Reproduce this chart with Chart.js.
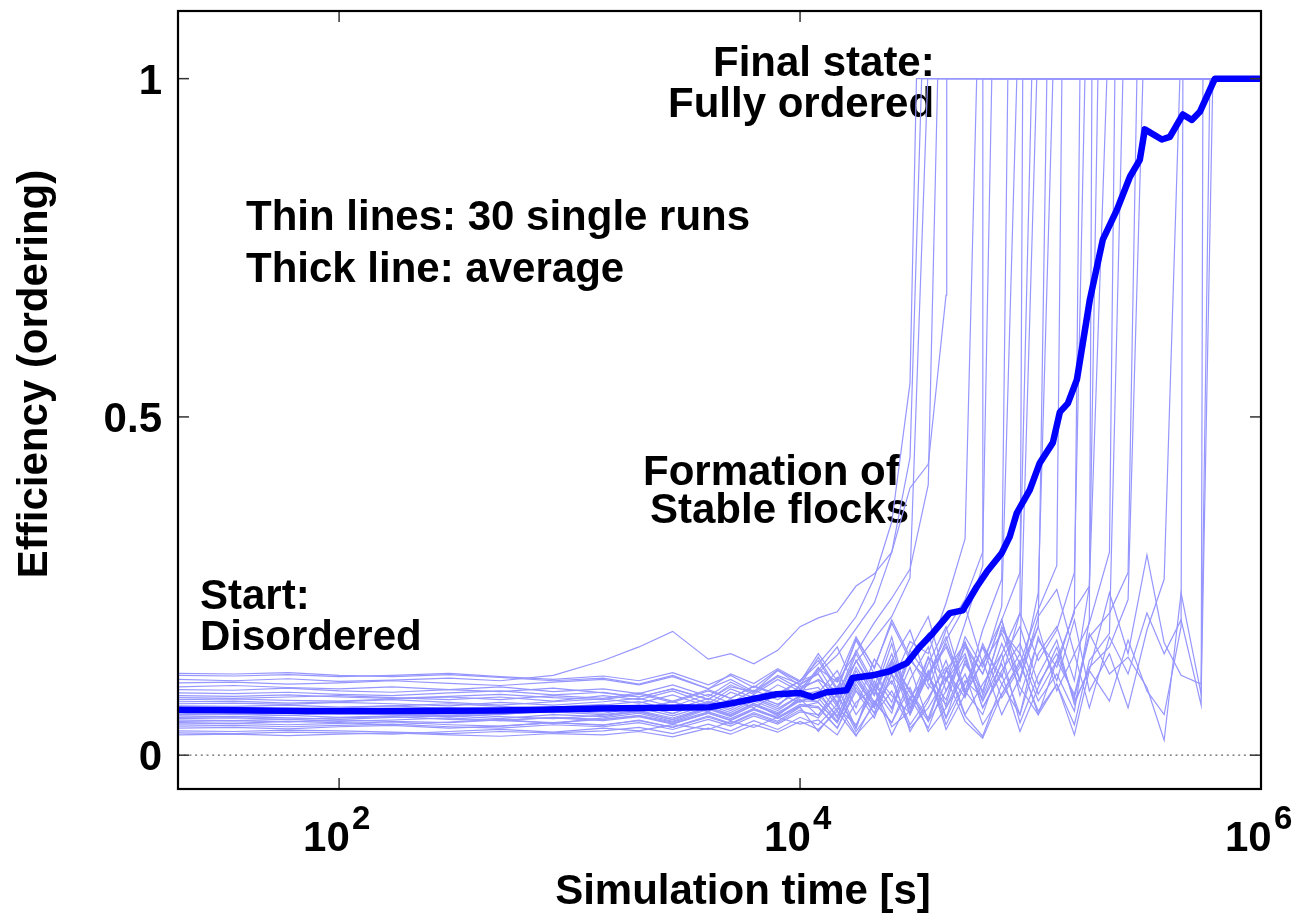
<!DOCTYPE html>
<html>
<head>
<meta charset="utf-8">
<title>Efficiency (ordering) vs simulation time</title>
<script src="https://cdn.jsdelivr.net/npm/chart.js@4.4.1/dist/chart.umd.min.js"></script>
<style>
  html, body { margin: 0; padding: 0; background: #fff; }
  #wrap { width: 1314px; height: 916px; }
</style>
</head>
<body>
<div id="wrap"><canvas id="chart" width="1314" height="916"></canvas></div>
<script>
// time grid of the single runs [s]
const times = [20, 35, 60, 100, 170, 300, 500, 850, 1400, 2000, 2800, 4000, 5000, 6300, 8000,
  10000, 12000, 14500, 17500, 21000, 25000, 30000, 36000, 43000, 52000, 62000, 75000, 90000,
  108000, 130000, 155000, 180000, 220000, 265000, 320000, 380000, 450000, 550000, 660000, 790000, 1000000];

// each single run, on the grid above, until it jumps to full order
const run01 = [0.088, 0.087, 0.089, 0.086, 0.084, 0.087, 0.090, 0.085, 0.082, 0.090, 0.078, 0.095, 0.084, 0.102, 0.091, 0.110, 0.135, 0.168, 0.205, 0.262, 0.345, 0.55];
const run02 = [0.101, 0.103, 0.100, 0.098, 0.101, 0.097, 0.094, 0.099, 0.092, 0.086, 0.098, 0.083, 0.101, 0.094, 0.118, 0.105, 0.122, 0.148, 0.187, 0.225, 0.300, 0.44];
const run03 = [0.062, 0.060, 0.063, 0.065, 0.061, 0.058, 0.064, 0.070, 0.066, 0.074, 0.061, 0.080, 0.069, 0.088, 0.075, 0.097, 0.112, 0.095, 0.138, 0.172, 0.205, 0.262];
const run04 = [0.079, 0.080, 0.077, 0.079, 0.082, 0.078, 0.074, 0.079, 0.083, 0.077, 0.089, 0.072, 0.093, 0.081, 0.104, 0.089, 0.128, 0.108, 0.152, 0.196, 0.232, 0.275, 0.40];
const run05 = [0.112, 0.110, 0.113, 0.109, 0.111, 0.114, 0.110, 0.118, 0.140, 0.160, 0.183, 0.142, 0.150, 0.135, 0.155, 0.190, 0.203, 0.212, 0.250, 0.268, 0.300, 0.395, 0.430, 0.68];
const run06 = [0.070, 0.071, 0.068, 0.070, 0.073, 0.069, 0.066, 0.071, 0.075, 0.068, 0.079, 0.064, 0.083, 0.070, 0.091, 0.078, 0.092, 0.125, 0.070, 0.142, 0.105, 0.168, 0.150, 0.225, 0.32];
const run07 = [0.048, 0.047, 0.050, 0.048, 0.045, 0.049, 0.053, 0.047, 0.055, 0.062, 0.050, 0.068, 0.057, 0.074, 0.061, 0.083, 0.058, 0.102, 0.040, 0.120, 0.088, 0.062, 0.145, 0.110, 0.195, 0.28];
const run08 = [0.121, 0.120, 0.122, 0.118, 0.116, 0.119, 0.115, 0.110, 0.114, 0.105, 0.118, 0.098, 0.112, 0.094, 0.125, 0.103, 0.145, 0.098, 0.172, 0.130, 0.195, 0.140, 0.110, 0.185, 0.230, 0.30];
const run09 = [0.056, 0.057, 0.055, 0.053, 0.056, 0.058, 0.054, 0.060, 0.057, 0.065, 0.052, 0.071, 0.060, 0.077, 0.058, 0.086, 0.078, 0.048, 0.110, 0.072, 0.135, 0.060, 0.118, 0.160, 0.092, 0.185, 0.26];
const run10 = [0.085, 0.084, 0.086, 0.088, 0.085, 0.082, 0.086, 0.080, 0.088, 0.082, 0.095, 0.076, 0.098, 0.085, 0.072, 0.104, 0.120, 0.075, 0.140, 0.098, 0.062, 0.155, 0.115, 0.082, 0.175, 0.130, 0.22];
const run11 = [0.040, 0.041, 0.039, 0.042, 0.044, 0.040, 0.043, 0.048, 0.044, 0.052, 0.041, 0.058, 0.047, 0.063, 0.050, 0.071, 0.035, 0.070, 0.045, 0.098, 0.030, 0.085, 0.120, 0.055, 0.140, 0.080, 0.150, 0.21];
const run12 = [0.097, 0.096, 0.099, 0.095, 0.093, 0.097, 0.101, 0.094, 0.098, 0.091, 0.104, 0.087, 0.108, 0.092, 0.116, 0.098, 0.125, 0.160, 0.095, 0.070, 0.140, 0.185, 0.105, 0.075, 0.165, 0.120, 0.200, 0.27];
const run13 = [0.064, 0.065, 0.062, 0.064, 0.067, 0.063, 0.060, 0.066, 0.062, 0.070, 0.058, 0.074, 0.063, 0.080, 0.066, 0.088, 0.095, 0.055, 0.125, 0.078, 0.048, 0.112, 0.160, 0.070, 0.135, 0.095, 0.185, 0.150];
const run14 = [0.033, 0.032, 0.034, 0.033, 0.031, 0.035, 0.038, 0.034, 0.040, 0.036, 0.045, 0.038, 0.050, 0.041, 0.056, 0.046, 0.052, 0.030, 0.078, 0.100, 0.042, 0.065, 0.122, 0.038, 0.090, 0.140, 0.060, 0.115, 0.19];
const run15 = [0.076, 0.077, 0.075, 0.078, 0.076, 0.073, 0.078, 0.074, 0.079, 0.084, 0.072, 0.090, 0.077, 0.096, 0.082, 0.101, 0.110, 0.072, 0.140, 0.090, 0.165, 0.060, 0.120, 0.175, 0.088, 0.140, 0.200, 0.110, 0.24];
const run16 = [0.107, 0.108, 0.105, 0.107, 0.110, 0.106, 0.103, 0.108, 0.112, 0.104, 0.116, 0.098, 0.120, 0.106, 0.128, 0.110, 0.140, 0.095, 0.170, 0.120, 0.078, 0.155, 0.205, 0.110, 0.168, 0.090, 0.190, 0.135, 0.215, 0.28];
const run17 = [0.052, 0.051, 0.053, 0.050, 0.052, 0.055, 0.051, 0.048, 0.053, 0.058, 0.047, 0.062, 0.052, 0.068, 0.055, 0.072, 0.078, 0.048, 0.105, 0.062, 0.130, 0.085, 0.040, 0.110, 0.150, 0.070, 0.125, 0.165, 0.090, 0.140, 0.21];
const run18 = [0.082, 0.083, 0.081, 0.080, 0.083, 0.086, 0.082, 0.088, 0.084, 0.092, 0.080, 0.097, 0.084, 0.102, 0.088, 0.110, 0.120, 0.078, 0.150, 0.100, 0.175, 0.068, 0.135, 0.190, 0.095, 0.160, 0.115, 0.210, 0.140, 0.185, 0.27];
const run19 = [0.043, 0.044, 0.042, 0.044, 0.046, 0.042, 0.040, 0.045, 0.042, 0.048, 0.038, 0.053, 0.043, 0.058, 0.046, 0.064, 0.060, 0.090, 0.035, 0.075, 0.110, 0.045, 0.085, 0.130, 0.058, 0.028, 0.105, 0.150, 0.080, 0.120, 0.065, 0.20];
const run20 = [0.092, 0.091, 0.093, 0.090, 0.088, 0.092, 0.095, 0.089, 0.093, 0.086, 0.098, 0.082, 0.104, 0.090, 0.112, 0.094, 0.130, 0.085, 0.155, 0.105, 0.070, 0.145, 0.180, 0.095, 0.160, 0.120, 0.200, 0.088, 0.170, 0.130, 0.215, 0.25];
const run21 = [0.060, 0.061, 0.059, 0.062, 0.060, 0.057, 0.061, 0.064, 0.060, 0.066, 0.055, 0.071, 0.060, 0.076, 0.063, 0.081, 0.085, 0.050, 0.115, 0.070, 0.140, 0.095, 0.055, 0.125, 0.085, 0.165, 0.105, 0.060, 0.150, 0.190, 0.110, 0.25];
const run22 = [0.118, 0.117, 0.119, 0.116, 0.118, 0.121, 0.116, 0.112, 0.117, 0.110, 0.122, 0.104, 0.118, 0.100, 0.126, 0.108, 0.150, 0.110, 0.175, 0.128, 0.200, 0.145, 0.098, 0.170, 0.220, 0.135, 0.180, 0.110, 0.205, 0.245, 0.150, 0.195, 0.30];
const run23 = [0.036, 0.035, 0.037, 0.036, 0.034, 0.032, 0.035, 0.033, 0.036, 0.041, 0.032, 0.046, 0.036, 0.051, 0.038, 0.056, 0.045, 0.075, 0.030, 0.060, 0.095, 0.040, 0.070, 0.115, 0.050, 0.025, 0.090, 0.135, 0.065, 0.105, 0.045, 0.140, 0.18];
const run24 = [0.073, 0.072, 0.074, 0.071, 0.073, 0.076, 0.072, 0.069, 0.074, 0.079, 0.067, 0.084, 0.072, 0.089, 0.075, 0.095, 0.100, 0.065, 0.130, 0.088, 0.150, 0.075, 0.118, 0.165, 0.095, 0.060, 0.140, 0.190, 0.105, 0.150, 0.085, 0.175, 0.210, 0.27];
const run25 = [0.050, 0.051, 0.049, 0.052, 0.050, 0.048, 0.052, 0.055, 0.051, 0.057, 0.046, 0.062, 0.051, 0.067, 0.054, 0.073, 0.070, 0.040, 0.095, 0.055, 0.120, 0.035, 0.080, 0.140, 0.060, 0.105, 0.150, 0.048, 0.118, 0.170, 0.075, 0.130, 0.160, 0.23];
const run26 = [0.067, 0.066, 0.068, 0.065, 0.067, 0.070, 0.066, 0.063, 0.068, 0.073, 0.062, 0.078, 0.066, 0.083, 0.069, 0.088, 0.090, 0.058, 0.118, 0.075, 0.140, 0.092, 0.050, 0.125, 0.165, 0.080, 0.135, 0.060, 0.175, 0.110, 0.200, 0.095, 0.150, 0.070, 0.185, 0.26];
const run27 = [0.030, 0.031, 0.029, 0.031, 0.033, 0.030, 0.028, 0.032, 0.030, 0.035, 0.027, 0.040, 0.031, 0.045, 0.034, 0.050, 0.038, 0.065, 0.028, 0.080, 0.048, 0.100, 0.035, 0.070, 0.120, 0.045, 0.090, 0.140, 0.060, 0.105, 0.030, 0.125, 0.080, 0.170, 0.095, 0.060, 0.19];
const run28 = [0.058, 0.057, 0.059, 0.056, 0.058, 0.061, 0.057, 0.054, 0.059, 0.064, 0.053, 0.069, 0.058, 0.074, 0.060, 0.080, 0.080, 0.115, 0.060, 0.098, 0.140, 0.070, 0.125, 0.045, 0.105, 0.160, 0.085, 0.130, 0.190, 0.095, 0.150, 0.070, 0.175, 0.120, 0.210, 0.150, 0.200, 0.074];
const run29 = [0.046, 0.047, 0.045, 0.047, 0.049, 0.045, 0.043, 0.048, 0.045, 0.051, 0.041, 0.056, 0.046, 0.061, 0.048, 0.067, 0.055, 0.090, 0.040, 0.110, 0.068, 0.130, 0.050, 0.095, 0.145, 0.070, 0.120, 0.035, 0.100, 0.160, 0.080, 0.125, 0.240, 0.150, 0.296, 0.166, 0.118, 0.105];
const run30 = [0.054, 0.055, 0.053, 0.055, 0.057, 0.053, 0.051, 0.056, 0.053, 0.059, 0.049, 0.064, 0.054, 0.069, 0.056, 0.075, 0.072, 0.040, 0.100, 0.062, 0.120, 0.080, 0.145, 0.055, 0.110, 0.085, 0.165, 0.100, 0.060, 0.140, 0.090, 0.180, 0.120, 0.145, 0.100, 0.022, 0.240, 0.090];

const runs = [run01, run02, run03, run04, run05, run06, run07, run08, run09, run10,
  run11, run12, run13, run14, run15, run16, run17, run18, run19, run20,
  run21, run22, run23, run24, run25, run26, run27, run28, run29, run30];

// time [s] at which each run reaches the fully ordered state (efficiency 1)
const jumpTimes = [32000, 33700, 35800, 39550, 43300, 58400, 62100, 67900, 79700, 87200,
  92500, 101200, 106400, 117700, 125000, 136800, 163800, 172200, 184600, 196000,
  214400, 232200, 251600, 289400, 307200, 444600, 458200, 559800, 600000, 618000];
const orderedValue = 1;

// average over the 30 runs
const avgTimes = [20, 100, 495, 1350, 4050, 5090, 7910, 9950, 11330, 13030, 15920, 16910, 20660, 24490,
  29040, 33040, 37600, 44570, 50800, 58450, 64600, 75050, 81260, 87170, 99300, 109700, 125000, 134000,
  145200, 158900, 180800, 205900, 237000, 270000, 298000, 313300, 371400, 402400, 458200, 501200,
  543000, 631000, 1000000];
const avgValues = [0.067, 0.065, 0.066, 0.069, 0.071, 0.077, 0.090, 0.092, 0.086, 0.093, 0.096, 0.114, 0.118, 0.124,
  0.136, 0.160, 0.180, 0.210, 0.214, 0.249, 0.271, 0.299, 0.323, 0.358, 0.392, 0.432, 0.462, 0.507,
  0.520, 0.555, 0.673, 0.762, 0.806, 0.855, 0.880, 0.925, 0.910, 0.914, 0.947, 0.939,
  0.951, 1.0, 1.0];

const xTicks = [1e2, 1e4, 1e6];
const yTicks = [0, 0.5, 1];

const FONT = '"Liberation Sans", Arial, Helvetica, sans-serif';

// text placed on the plot
const notes = [
  { text: 'Final state:', x: 713, y: 76 },
  { text: 'Fully ordered', x: 668, y: 117 },
  { text: 'Thin lines: 30 single runs', x: 246, y: 230 },
  { text: 'Thick line: average', x: 246, y: 282 },
  { text: 'Formation of', x: 643, y: 485 },
  { text: 'Stable flocks', x: 650, y: 523 },
  { text: 'Start:', x: 200, y: 609 },
  { text: 'Disordered', x: 200, y: 650 }
];

const lastTime = times[times.length - 1];

const runSets = runs.map((vals, i) => {
  const pts = vals.map((v, k) => ({ x: times[k], y: v }));
  pts.push({ x: jumpTimes[i], y: orderedValue });
  pts.push({ x: lastTime, y: orderedValue });
  return {
    data: pts,
    borderColor: 'rgb(150,150,255)',
    borderWidth: 1.2,
    pointRadius: 0,
    tension: 0,
    order: 1
  };
});

const avgSet = {
  data: avgTimes.map((t, k) => ({ x: t, y: avgValues[k] })),
  borderColor: '#0000ff',
  borderWidth: 6.5,
  pointRadius: 0,
  tension: 0,
  borderJoinStyle: 'round',
  order: 0
};

function line(ctx, x1, y1, x2, y2) {
  ctx.beginPath();
  ctx.moveTo(x1, y1);
  ctx.lineTo(x2, y2);
  ctx.stroke();
}

const decorations = {
  id: 'decorations',
  beforeDatasetsDraw(chart) {
    const { ctx, chartArea: area, scales: { y } } = chart;
    ctx.save();
    // dotted zero line
    const y0 = y.getPixelForValue(0);
    ctx.strokeStyle = '#666';
    ctx.lineWidth = 1.2;
    ctx.setLineDash([2, 3.7]);
    line(ctx, area.left, y0, area.right, y0);
    ctx.setLineDash([]);
    // annotations (lines run over them)
    ctx.fillStyle = '#000';
    ctx.font = 'bold 42px ' + FONT;
    ctx.textAlign = 'left';
    ctx.textBaseline = 'alphabetic';
    notes.forEach(n => ctx.fillText(n.text, n.x, n.y));
    ctx.restore();
  },
  afterDatasetsDraw(chart) {
    const { ctx, chartArea: area, scales: { x, y } } = chart;
    ctx.save();
    // inward ticks, mirrored
    ctx.strokeStyle = '#333';
    ctx.lineWidth = 1.5;
    yTicks.forEach(v => {
      const py = y.getPixelForValue(v);
      line(ctx, area.left, py, area.left + 11, py);
      line(ctx, area.right - 11, py, area.right, py);
    });
    xTicks.forEach(v => {
      const px = x.getPixelForValue(v);
      line(ctx, px, area.bottom, px, area.bottom - 11);
      line(ctx, px, area.top, px, area.top + 11);
    });
    // frame
    ctx.strokeStyle = '#000';
    ctx.lineWidth = 2.2;
    ctx.strokeRect(area.left, area.top, area.right - area.left, area.bottom - area.top);

    ctx.fillStyle = '#000';
    ctx.textBaseline = 'alphabetic';
    // y tick labels
    ctx.font = 'bold 42px ' + FONT;
    ctx.textAlign = 'right';
    yTicks.forEach(v => {
      ctx.fillText(String(v), area.left - 16, y.getPixelForValue(v) + 15);
    });
    // x tick labels: 10 with superscript exponent
    ctx.textAlign = 'left';
    xTicks.forEach(v => {
      const px = x.getPixelForValue(v);
      ctx.font = 'bold 42px ' + FONT;
      ctx.fillText('10', px - 36, 851);
      ctx.font = 'bold 33px ' + FONT;
      ctx.fillText(String(Math.round(Math.log10(v))), px + 13, 829);
    });
    // axis titles
    ctx.font = 'bold 42px ' + FONT;
    ctx.textAlign = 'center';
    ctx.fillText('Simulation time [s]', 743, 904);
    ctx.translate(47, 374);
    ctx.rotate(-Math.PI / 2);
    ctx.fillText('Efficiency (ordering)', 0, 0);
    ctx.restore();
  }
};

new Chart(document.getElementById('chart'), {
  type: 'line',
  data: { datasets: [avgSet, ...runSets] },
  options: {
    responsive: false,
    animation: false,
    devicePixelRatio: 1,
    parsing: false,
    normalized: true,
    layout: { padding: { top: 11, right: 53, left: 0, bottom: 0 } },
    plugins: {
      legend: { display: false },
      tooltip: { enabled: false }
    },
    scales: {
      x: {
        type: 'logarithmic',
        min: 20,
        max: 1e6,
        grid: { display: false },
        border: { display: false },
        ticks: { display: false },
        afterFit(scale) { scale.height = 127; }
      },
      y: {
        min: -0.05,
        max: 1.1,
        grid: { display: false },
        border: { display: false },
        ticks: { display: false },
        afterFit(scale) { scale.width = 178; }
      }
    }
  },
  plugins: [decorations]
});
</script>
</body>
</html>
